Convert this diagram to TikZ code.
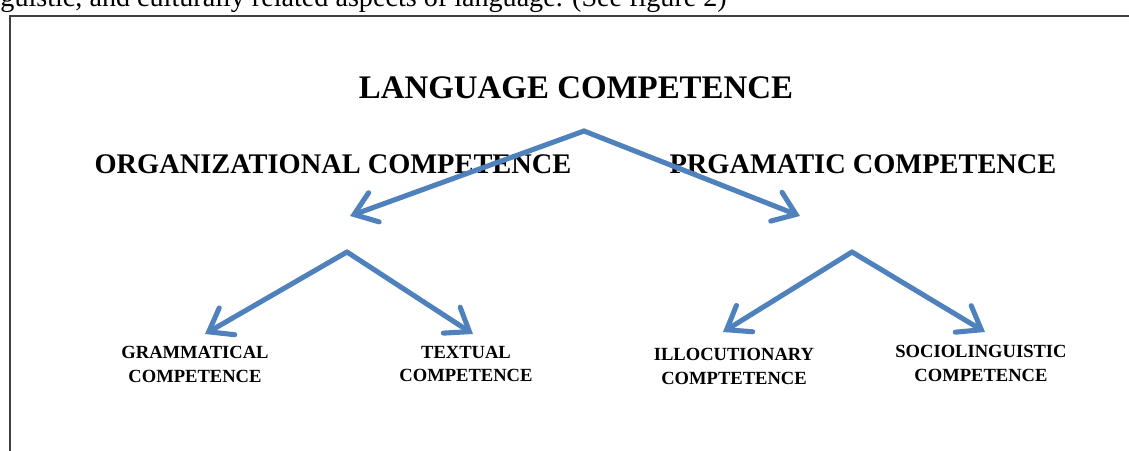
\documentclass[tikz,border=0pt]{standalone}
\usepackage{fontspec}
\setmainfont{Liberation Serif}
\usetikzlibrary{arrows.meta}
\definecolor{arrowblue}{RGB}{79,129,189}
\tikzset{
 branch/.style={draw=arrowblue, line width=3.6pt, line cap=round,
  -{Straight Barb[length=15pt,width=22pt,line cap=round]}},
 bigtitle/.style={font=\bfseries\fontsize{23.4}{28}\selectfont, inner sep=0pt},
 midtitle/.style={font=\bfseries\fontsize{20.2}{24}\selectfont, inner sep=0pt},
 leaf/.style={font=\bfseries\fontsize{13.2}{17}\selectfont, align=center, inner sep=0pt}
}
\begin{document}
\begin{tikzpicture}[x=0.025cm, y=-0.025cm]
 \useasboundingbox (0,0) rectangle (1129,451);
 \clip (0,0) rectangle (1129,451);

 %text of the page above the figure
 \node [anchor=base east, font=\fontsize{20}{24}\selectfont, inner sep=0pt] (pagetext) at (727,7)
  {guistic, and culturally related aspects of language. (See figure 2)};

 %frame of the figure
 \draw [line width=1pt, black!75] (10,460) -- (10,16) -- (1140,16);

 %headings
 \node [bigtitle] (lang) at (576,88) {LANGUAGE COMPETENCE};
 \node [midtitle] (org) at (333,164) {ORGANIZATIONAL COMPETENCE};
 \node [midtitle] (prag) at (863,164) {PRGAMATIC COMPETENCE};

 %the four competences below
 \node [leaf] (gram) at (195,364) {GRAMMATICAL\\COMPETENCE};
 \node [leaf] (text) at (466,364) {TEXTUAL\\COMPETENCE};
 \node [leaf] (illoc) at (734,366) {ILLOCUTIONARY\\COMPTETENCE};
 \node [leaf] (socio) at (981,363) {SOCIOLINGUISTIC\\COMPETENCE};

 %points where the arrows start and end
 \coordinate (lang-fork) at (584,131);
 \coordinate (org-tip) at (350,216);
 \coordinate (prag-tip) at (800,216);
 \coordinate (org-fork) at (347,252);
 \coordinate (gram-tip) at (205,334);
 \coordinate (text-tip) at (473,334);
 \coordinate (prag-fork) at (852,252);
 \coordinate (illoc-tip) at (723,332);
 \coordinate (socio-tip) at (985,332);

 %arrows
 \draw [branch] (lang-fork) -- (org-tip);
 \draw [branch] (lang-fork) -- (prag-tip);
 \draw [branch] (org-fork) -- (gram-tip);
 \draw [branch] (org-fork) -- (text-tip);
 \draw [branch] (prag-fork) -- (illoc-tip);
 \draw [branch] (prag-fork) -- (socio-tip);
\end{tikzpicture}
\end{document}
